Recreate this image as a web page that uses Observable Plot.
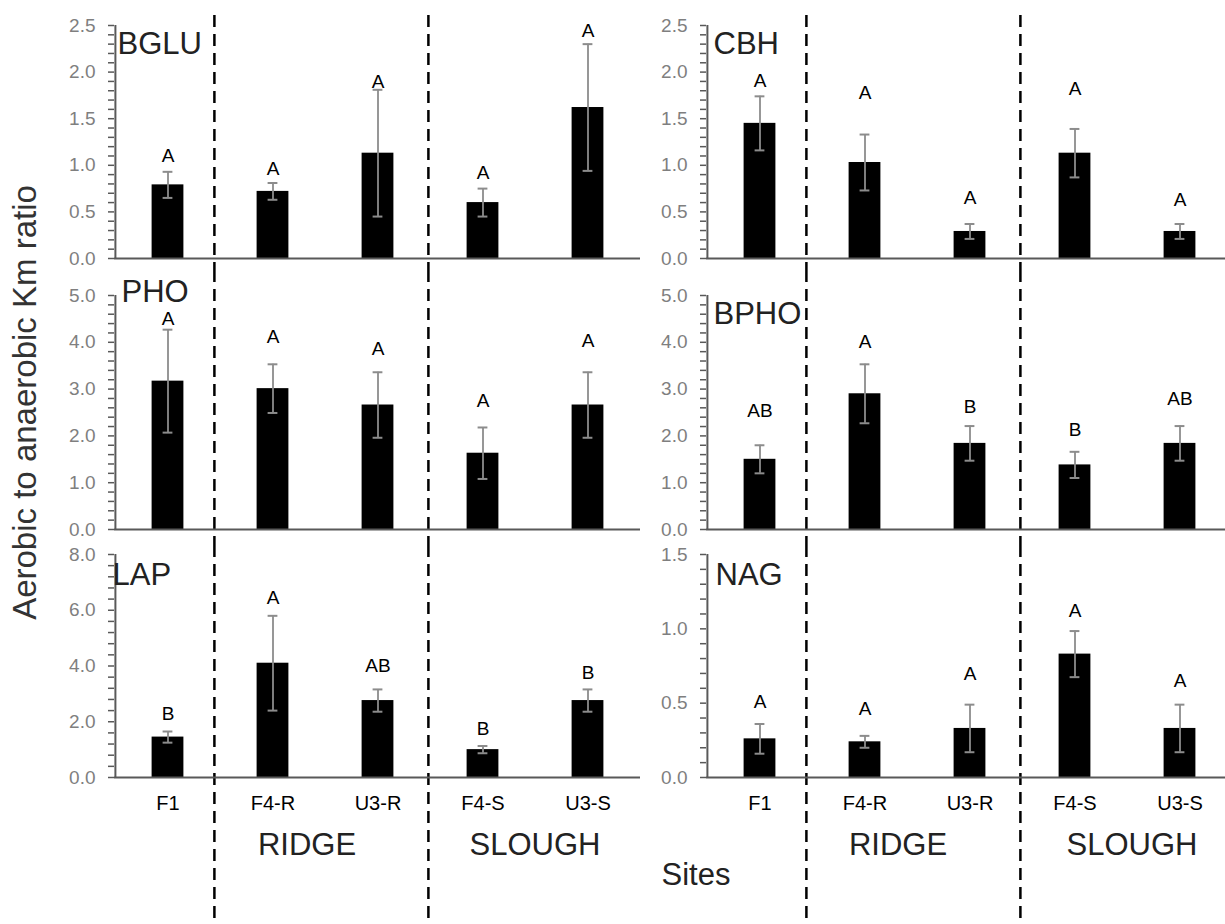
<!DOCTYPE html>
<html>
<head>
<meta charset="utf-8">
<script src="https://cdn.jsdelivr.net/npm/d3@7"></script>
<script src="https://cdn.jsdelivr.net/npm/@observablehq/plot@0.6"></script>
<style>
html, body { margin: 0; padding: 0; background: #fff; overflow: hidden; }
#chart { position: relative; width: 1225px; height: 924px; overflow: hidden; background: #fff; }
#chart svg { position: absolute; }
</style>
</head>
<body>
<div id="chart"></div>
<script>
// ---- data ----
const sites = ["F1", "F4-R", "U3-R", "F4-S", "U3-S"];
const panelNames = ["BGLU", "CBH", "PHO", "BPHO", "LAP", "NAG"];
const groupLabels = ["RIDGE", "SLOUGH"];
const groupStart = ["F4-R", "F4-S"];
const xTitle = "Sites";
const yTitle = "Aerobic to anaerobic Km ratio";

const bgluMean = [0.79, 0.72, 1.13, 0.60, 1.62];
const bgluErr = [0.14, 0.09, 0.68, 0.15, 0.68];
const bgluLetters = ["A", "A", "A", "A", "A"];
const bgluLetterY = [1.10, 0.96, 1.89, 0.92, 2.44];

const cbhMean = [1.45, 1.03, 0.29, 1.13, 0.29];
const cbhErr = [0.29, 0.30, 0.08, 0.26, 0.08];
const cbhLetters = ["A", "A", "A", "A", "A"];
const cbhLetterY = [1.91, 1.78, 0.65, 1.82, 0.63];

const phoMean = [3.17, 3.01, 2.66, 1.63, 2.66];
const phoErr = [1.10, 0.52, 0.70, 0.55, 0.70];
const phoLetters = ["A", "A", "A", "A", "A"];
const phoLetterY = [4.50, 4.11, 3.86, 2.74, 4.04];

const bphoMean = [1.50, 2.90, 1.84, 1.38, 1.84];
const bphoErr = [0.30, 0.63, 0.37, 0.28, 0.37];
const bphoLetters = ["AB", "A", "B", "B", "AB"];
const bphoLetterY = [2.53, 4.00, 2.61, 2.12, 2.79];

const lapMean = [1.45, 4.10, 2.76, 1.00, 2.76];
const lapErr = [0.20, 1.70, 0.40, 0.13, 0.40];
const lapLetters = ["B", "A", "AB", "B", "B"];
const lapLetterY = [2.28, 6.44, 4.01, 1.75, 3.74];

const nagMean = [0.26, 0.24, 0.33, 0.83, 0.33];
const nagErr = [0.10, 0.04, 0.16, 0.155, 0.16];
const nagLetters = ["A", "A", "A", "A", "A"];
const nagLetterY = [0.51, 0.46, 0.70, 1.12, 0.65];

const yMax = [2.5, 2.5, 5.0, 5.0, 8.0, 1.5];
const yMajor = [0.5, 0.5, 1.0, 1.0, 2.0, 0.5];

// ---- layout / style ----
const FONT = '"Liberation Sans", Arial, Helvetica, sans-serif';
const layout = {
  cols: [
    {left: 0, width: 650, marginLeft: 114, marginRight: 10, groupDx: [34, 52]},
    {left: 600, width: 632, marginLeft: 106, marginRight: 0, groupDx: [33, 57]}
  ],
  rows: [
    {top: 0, height: 270, marginTop: 25, marginBottom: 12, dashTop: 15},
    {top: 270, height: 275, marginTop: 25, marginBottom: 16, dashTop: 0},
    {top: 545, height: 379, marginTop: 9, marginBottom: 147, dashTop: 0}
  ]
};
const titleOffsets = [[3, 28], [7, 28], [7, 6], [7, 28], [-2, 30], [9, 30]];

const panels = [
  {mean: bgluMean, err: bgluErr, letters: bgluLetters, ly: bgluLetterY},
  {mean: cbhMean, err: cbhErr, letters: cbhLetters, ly: cbhLetterY},
  {mean: phoMean, err: phoErr, letters: phoLetters, ly: phoLetterY},
  {mean: bphoMean, err: bphoErr, letters: bphoLetters, ly: bphoLetterY},
  {mean: lapMean, err: lapErr, letters: lapLetters, ly: lapLetterY},
  {mean: nagMean, err: nagErr, letters: nagLetters, ly: nagLetterY}
].map((p, i) => ({...p, name: panelNames[i], max: yMax[i], major: yMajor[i], row: Math.floor(i / 2), col: i % 2}));

const chart = document.getElementById("chart");
const AXIS = "#595959";

panels.forEach((p, idx) => {
  const col = layout.cols[p.col], row = layout.rows[p.row];
  const step = (col.width - col.marginLeft - col.marginRight) / sites.length;
  const data = sites.map((s, i) => ({site: s, mean: p.mean[i], err: p.err[i], letter: p.letters[i], ly: p.ly[i]}));
  const nMajor = Math.round(p.max / p.major);
  const majorTicks = d3.range(0, nMajor + 1).map(i => i * p.major);
  const minor = p.major / 5;
  const minorTicks = d3.range(0, nMajor * 5 + 1).map(i => i * minor);
  const dashOpts = {stroke: "black", strokeWidth: 2.5, strokeDasharray: "12,7",
    insetTop: -(row.marginTop - row.dashTop), insetBottom: -row.marginBottom};
  const barInset = (step - 32) / 2;
  const capInset = (step - 10) / 2;
  const [tdx, tdy] = titleOffsets[idx];

  const marks = [
    Plot.ruleX([sites[1]], {...dashOpts, dx: -step / 2 - 6}),
    Plot.ruleX([sites[3]], {...dashOpts, dx: -step / 2 - 2}),
    Plot.barY(data, {x: "site", y: "mean", fill: "black", insetLeft: barInset, insetRight: barInset}),
    Plot.ruleX(data, {x: "site", y1: d => d.mean - d.err, y2: d => d.mean + d.err, stroke: "#8c8c8c", strokeWidth: 1.8}),
    Plot.tickY(data, {x: "site", y: d => d.mean + d.err, stroke: "#8c8c8c", strokeWidth: 2, insetLeft: capInset, insetRight: capInset}),
    Plot.tickY(data, {x: "site", y: d => d.mean - d.err, stroke: "#8c8c8c", strokeWidth: 2, insetLeft: capInset, insetRight: capInset}),
    Plot.ruleY([0], {stroke: AXIS, strokeWidth: 2}),
    Plot.ruleX([sites[0]], {dx: -step / 2, stroke: AXIS, strokeWidth: 2}),
    Plot.axisY({ticks: minorTicks, tickSize: 6, tickFormat: () => "", color: AXIS, strokeWidth: 1.5, label: null}),
    Plot.axisY({ticks: majorTicks, tickSize: 0, tickPadding: 19, tickFormat: d3.format(".1f"), fontSize: 19, color: "#7f7f7f", label: null}),
    Plot.text(data, {x: "site", y: "ly", text: "letter", fontSize: 19, fill: "black", lineAnchor: "middle"}),
    Plot.text([p.name], {frameAnchor: "top-left", textAnchor: "start", lineAnchor: "bottom", dx: tdx, dy: tdy, fontSize: 31, fill: "#222"})
  ];

  if (p.row === 2) {
    marks.push(Plot.axisX({tickSize: 0, tickPadding: 18, fontSize: 20, color: "black", label: null}));
    groupLabels.forEach((g, gi) => {
      marks.push(Plot.text([g], {x: () => groupStart[gi], frameAnchor: "bottom", textAnchor: "middle", dx: col.groupDx[gi], dy: 68,
        lineAnchor: "middle", fontSize: 31, fill: "#222"}));
    });
    if (p.col === 1) {
      marks.push(Plot.text([xTitle], {x: () => sites[0], frameAnchor: "bottom", textAnchor: "middle", dx: -64, dy: 98,
        lineAnchor: "middle", fontSize: 31, fill: "#222"}));
    }
  }
  if (p.row === 1 && p.col === 0) {
    marks.push(Plot.text([yTitle], {frameAnchor: "left", textAnchor: "middle", rotate: -90, dx: -89, dy: -10,
      lineAnchor: "middle", fontSize: 33, fill: "#333"}));
  }

  const svg = Plot.plot({
    width: col.width,
    height: row.height,
    marginLeft: col.marginLeft,
    marginRight: col.marginRight,
    marginTop: row.marginTop,
    marginBottom: row.marginBottom,
    style: {fontFamily: FONT, background: "transparent", overflow: "visible"},
    x: {type: "band", domain: sites, padding: 0, axis: null, label: null},
    y: {domain: [0, p.max], axis: null, label: null},
    marks
  });
  svg.style.left = col.left + "px";
  svg.style.top = row.top + "px";
  svg.style.position = "absolute";
  chart.appendChild(svg);
});
</script>
</body>
</html>
